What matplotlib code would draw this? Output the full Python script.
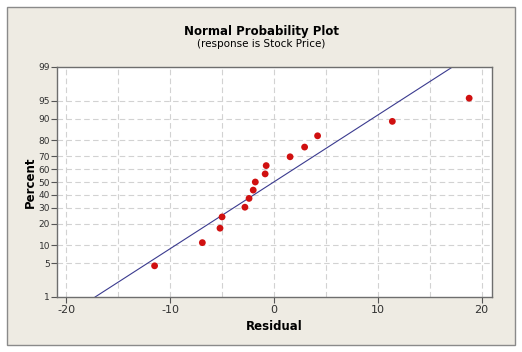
import numpy as np
from statistics import NormalDist
from matplotlib import pyplot as plt
from matplotlib.patches import Rectangle

# residuals, with their plotted percent positions
residuals = [-11.5, -6.9, -5.2, -5.0, -2.8, -2.4, -2.0, -1.8, -0.85, -0.75,
             1.55, 2.95, 4.2, 11.4, 18.8]
percents = [4.5, 11.0, 17.5, 24.0, 30.5, 37.0, 43.5, 50.0, 56.5, 63.0,
            69.5, 76.0, 82.5, 89.0, 95.5]

y_ticks = [1, 5, 10, 20, 30, 40, 50, 60, 70, 80, 90, 95, 99]
x_ticks = [-20, -10, 0, 10, 20]

nd = NormalDist()
z = lambda p: nd.inv_cdf(p / 100.0)

fig = plt.figure(figsize=(5.22, 3.52), dpi=100)
fig.patch.set_facecolor('white')
frame = Rectangle((7 / 522, 7 / 352), 508 / 522, 338 / 352,
                  transform=fig.transFigure, facecolor='#EEEBE3',
                  edgecolor='#8A8A8A', linewidth=1.0, zorder=-5)
fig.add_artist(frame)

ax = fig.add_axes([57 / 522, 55 / 352, 435 / 522, 230 / 352])
ax.set_facecolor('white')

# fitted normal line
mu = np.mean(residuals)
sd = np.std(residuals, ddof=1)
zl = np.array([z(1), z(99)])
ax.plot(mu + sd * zl, zl, color='#3B3B8F', linewidth=0.8, zorder=2)

ax.scatter(residuals, [z(p) for p in percents], s=24, color='#D01010',
           edgecolors='none', zorder=3)

ax.set_xlim(-20.9, 21.0)
ax.set_ylim(z(1), z(99))

ax.set_xticks(x_ticks)
ax.set_xticklabels([str(t) for t in x_ticks])
ax.set_yticks([z(p) for p in y_ticks])
ax.set_yticklabels([str(p) for p in y_ticks])
ax.tick_params(axis='x', labelsize=8, length=4, width=0.8, color='#555555',
               labelcolor='#303030', pad=2)
ax.tick_params(axis='y', labelsize=6.5, length=4, width=0.8, color='#555555',
               labelcolor='#303030', pad=1)

for xv in np.arange(-20, 21, 5):
    ax.axvline(xv, color='#D2D2D2', linestyle=(0, (5, 3)), linewidth=0.8, zorder=1)
for p in y_ticks[1:-1]:
    ax.axhline(z(p), color='#D2D2D2', linestyle=(0, (5, 3)), linewidth=0.8, zorder=1)

for s in ax.spines.values():
    s.set_color('#6E6E6E')
    s.set_linewidth(1.0)

ax.set_xlabel('Residual', fontsize=8.5, fontweight='bold', labelpad=3)
ax.set_ylabel('Percent', fontsize=8.5, fontweight='bold', labelpad=1)

fig.text(0.5, 1 - 31 / 352, 'Normal Probability Plot', ha='center', va='center',
         fontsize=8.5, fontweight='bold')
fig.text(0.5, 1 - 44 / 352, '(response is Stock Price)', ha='center', va='center',
         fontsize=7.5)

plt.savefig('out.png', dpi=100)
plt.close()
